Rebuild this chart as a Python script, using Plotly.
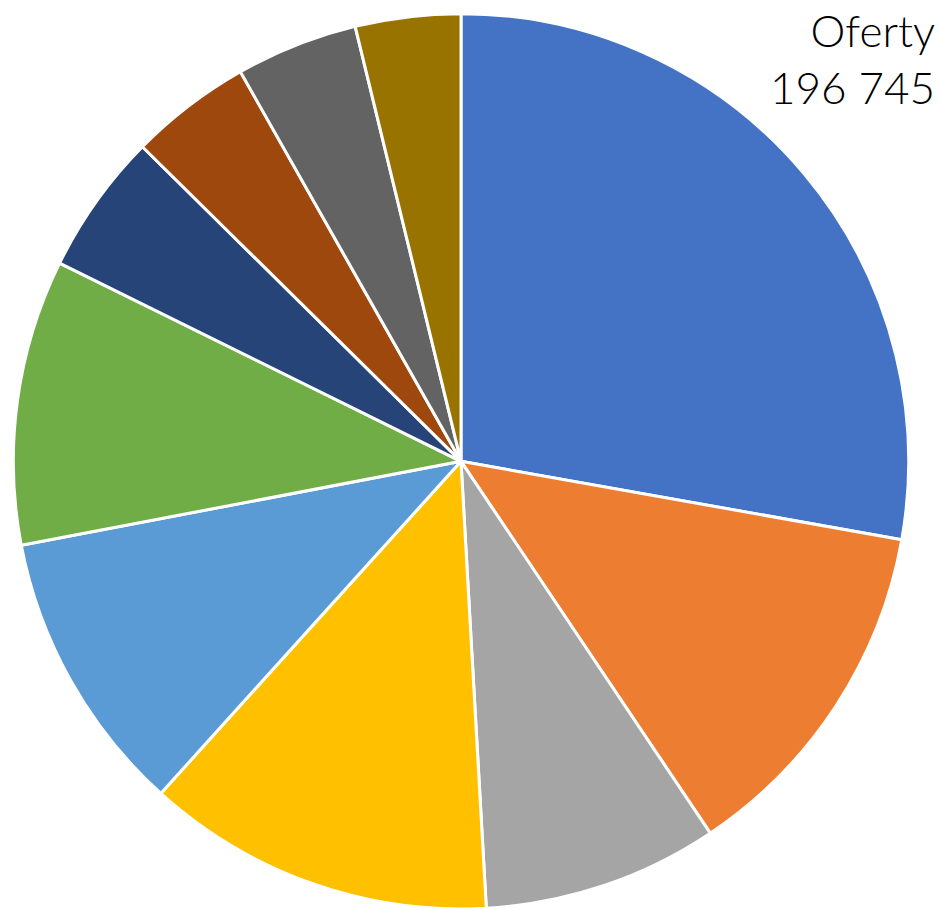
import plotly.graph_objects as go

categories = ["Kategoria 1", "Kategoria 2", "Kategoria 3", "Kategoria 4", "Kategoria 5",
              "Kategoria 6", "Kategoria 7", "Kategoria 8", "Kategoria 9", "Kategoria 10"]
values = [54700, 25180, 16720, 24790, 20260, 20270, 10030, 8660, 8660, 7475]
colors = ["#4472C4", "#ED7D31", "#A5A5A5", "#FFC000", "#5B9BD5",
          "#70AD47", "#264478", "#9E480E", "#636363", "#997300"]
title_text = "Oferty<br>196 745"

fig = go.Figure(go.Pie(
    labels=categories,
    values=values,
    sort=False,
    direction="clockwise",
    rotation=0,
    marker=dict(colors=colors, line=dict(color="white", width=3)),
    textinfo="none",
    showlegend=False,
    domain=dict(x=[0, 922/940], y=[0, 0.985]),
))

fig.add_annotation(
    text=title_text, xref="paper", yref="paper", x=937/940, y=1 - 2/909,
    xanchor="right", yanchor="top", align="right", showarrow=False,
    font=dict(family="Century Gothic, Lato, sans-serif", size=44, color="black", weight=300),
)

fig.update_layout(
    width=940, height=909,
    margin=dict(l=0, r=0, t=0, b=0),
    paper_bgcolor="white", plot_bgcolor="white",
)

fig.write_html(
    "out.html",
    config={"displayModeBar": False},
    post_script="document.body.style.margin='0';document.documentElement.style.overflow='hidden';",
)
